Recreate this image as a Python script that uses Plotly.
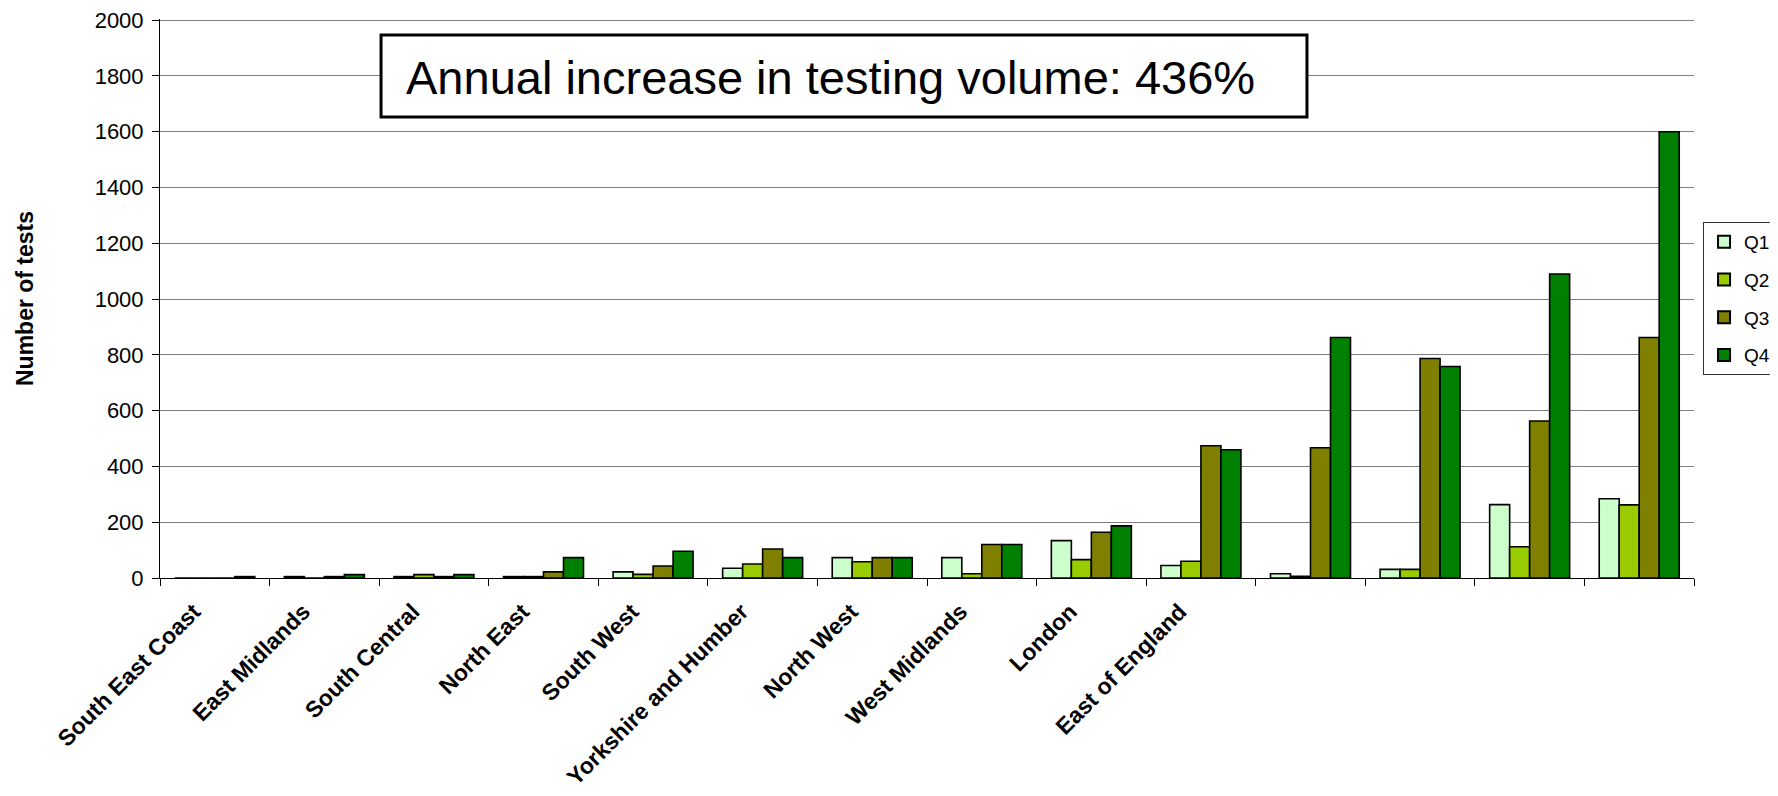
import plotly.graph_objects as go

# ---- data ----
regions = ["South East Coast", "East Midlands", "South Central", "North East",
           "South West", "Yorkshire and Humber", "North West", "West Midlands",
           "London", "East of England", "", "", "", ""]
quarters = ["Q1", "Q2", "Q3", "Q4"]
q1 = [0, 5, 5, 5, 22, 35, 73, 73, 134, 45, 15, 31, 263, 284]
q2 = [0, 0, 12, 5, 13, 50, 58, 15, 66, 60, 6, 31, 112, 262]
q3 = [0, 5, 5, 22, 43, 104, 73, 120, 164, 474, 467, 787, 563, 862]
q4 = [5, 12, 12, 73, 96, 73, 73, 120, 187, 460, 862, 758, 1090, 1600]
y_ticks = [0, 200, 400, 600, 800, 1000, 1200, 1400, 1600, 1800, 2000]
annotation_text = "Annual increase in testing volume: 436%"

colors = ["#CCFFCC", "#99CC00", "#808000", "#008000"]

# unique category keys (unlabelled regions get distinct blank keys)
cat_keys = [r if r else " " * (i + 1) for i, r in enumerate(regions)]

fig = go.Figure()
for name, vals, col in zip(quarters, [q1, q2, q3, q4], colors):
    fig.add_trace(go.Bar(
        x=cat_keys, y=vals, name=name, legendgroup=name,
        marker=dict(color=col, line=dict(color="black", width=1.6)),
    ))

FONT = "Liberation Sans, Arial, sans-serif"

# page body has an 8px default margin: figure is sized/margined to compensate
fig.update_layout(
    width=1770, height=788,
    margin=dict(l=152, r=84, t=11, b=218, autoexpand=False),
    paper_bgcolor="white", plot_bgcolor="white",
    barmode="group", bargap=0.27, bargroupgap=0,
    font=dict(family=FONT, color="black", size=20),
    showlegend=True,
    legend=dict(
        x=1.0059, xanchor="left", y=0.5, yanchor="middle",
        bordercolor="#333333", borderwidth=1, bgcolor="white",
        font=dict(size=19, family=FONT), tracegroupgap=10,
        itemsizing="constant",
    ),
    xaxis=dict(
        type="category", categoryorder="array", categoryarray=cat_keys,
        tickangle=-45, tickfont=dict(size=23, family=FONT, color="black", weight="bold"),
        showline=True, linecolor="black", linewidth=1,
        ticks="outside", tickson="boundaries", ticklen=7, tickcolor="black",
        ticklabelstandoff=10, ticklabelshift=-21,
        showgrid=False, zeroline=False,
    ),
    yaxis=dict(
        range=[0, 2004], tickvals=y_ticks, tickmode="array",
        tickfont=dict(size=22, family=FONT, color="black"),
        ticklabeloverflow="allow",
        showline=True, linecolor="black", linewidth=1,
        ticks="outside", ticklen=7, tickcolor="black", ticklabelstandoff=4,
        showgrid=True, gridcolor="#808080", gridwidth=1,
        zeroline=False,
        title=dict(text="<b>Number of tests</b>", font=dict(size=23, family=FONT, color="black"),
                   standoff=54),
    ),
    shapes=[dict(
        type="rect", xref="paper", yref="paper", layer="above",
        x0=0.1441, x1=0.7477, y0=0.8247, y1=0.9714,
        fillcolor="white", line=dict(color="black", width=3),
    )],
    annotations=[dict(
        text=annotation_text, xref="paper", yref="paper",
        x=0.159, y=0.895, xanchor="left", yanchor="middle",
        showarrow=False, font=dict(size=47, family=FONT, color="black"),
    )],
)

fig.write_html("out.html")
